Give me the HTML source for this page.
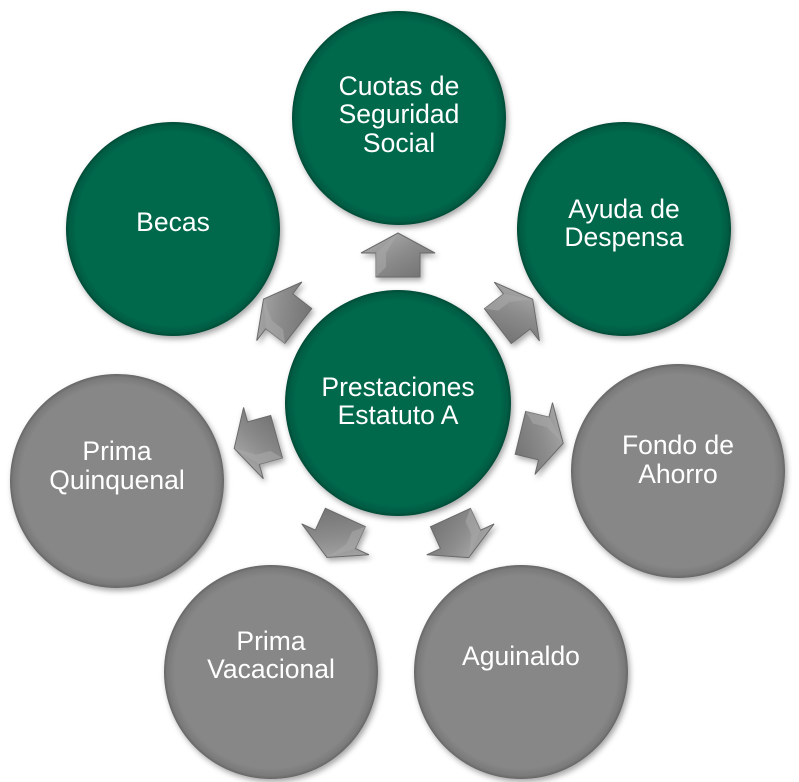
<!DOCTYPE html>
<html><head><meta charset="utf-8"><style>
html,body{margin:0;padding:0;background:#fff;width:799px;height:782px;overflow:hidden}
svg text{font-family:"Liberation Sans",Arial,sans-serif;font-size:26.5px;fill:#fff;text-anchor:middle}
</style></head><body>
<svg width="799" height="782" viewBox="0 0 799 782" xmlns="http://www.w3.org/2000/svg">
<defs>
<radialGradient id="g" cx="50%" cy="50%" r="50%">
<stop offset="0.9" stop-color="#03694c"/><stop offset="0.97" stop-color="#045c43"/><stop offset="1" stop-color="#034a36"/>
</radialGradient>
<radialGradient id="k" cx="50%" cy="50%" r="50%">
<stop offset="0.9" stop-color="#878787"/><stop offset="0.97" stop-color="#7a7a7a"/><stop offset="1" stop-color="#666"/>
</radialGradient>
<linearGradient id="a" x1="0" y1="0" x2="1" y2="1">
<stop offset="0" stop-color="#b5b5b5"/><stop offset="0.5" stop-color="#8c8c8c"/><stop offset="1" stop-color="#6e6e6e"/>
</linearGradient>
<filter id="s" x="-20%" y="-20%" width="140%" height="140%"><feDropShadow dx="2" dy="3" stdDeviation="3" flood-opacity="0.35"/></filter>
<g id="arr"><polygon points="0,-22 37,-2 22,-2 22,22 -22,22 -22,-2 -37,-2" fill="url(#a)" stroke="#6a6a6a" stroke-width="1"/>
<polygon points="0,-22 -22,-2 -22,22 -12,12 -12,-2" fill="#a8a8a8" opacity="0.6"/></g>
</defs>
<g filter="url(#s)">
<circle cx="399" cy="118" r="107" fill="url(#g)"/>
<circle cx="624" cy="229" r="107" fill="url(#g)"/>
<circle cx="173" cy="229" r="107" fill="url(#g)"/>
<circle cx="678" cy="471" r="107" fill="url(#k)"/>
<circle cx="521" cy="672" r="107" fill="url(#k)"/>
<circle cx="271" cy="672" r="107" fill="url(#k)"/>
<circle cx="117" cy="481" r="107" fill="url(#k)"/>
<circle cx="398" cy="403" r="113" fill="url(#g)"/>
</g>
<g filter="url(#s)">
<use href="#arr" transform="translate(398,403) rotate(0) translate(0,-148)"/>
<use href="#arr" transform="translate(398,403) rotate(52.4) translate(0,-148)"/>
<use href="#arr" transform="translate(398,403) rotate(103.7) translate(0,-148)"/>
<use href="#arr" transform="translate(398,403) rotate(155.4) translate(0,-148)"/>
<use href="#arr" transform="translate(398,403) rotate(204.7) translate(0,-148)"/>
<use href="#arr" transform="translate(398,403) rotate(-105.5) translate(0,-148)"/>
<use href="#arr" transform="translate(398,403) rotate(-52.3) translate(0,-148)"/>
</g>
<text x="399" y="95">Cuotas de</text>
<text x="399" y="123">Seguridad</text>
<text x="399" y="152">Social</text>
<text x="624" y="218">Ayuda de</text>
<text x="624" y="246">Despensa</text>
<text x="173" y="231">Becas</text>
<text x="398" y="396">Prestaciones</text>
<text x="398" y="424">Estatuto A</text>
<text x="678" y="454">Fondo de</text>
<text x="678" y="483">Ahorro</text>
<text x="521" y="665">Aguinaldo</text>
<text x="271" y="650">Prima</text>
<text x="271" y="678">Vacacional</text>
<text x="117" y="460">Prima</text>
<text x="117" y="489">Quinquenal</text>
</svg>
</body></html>
